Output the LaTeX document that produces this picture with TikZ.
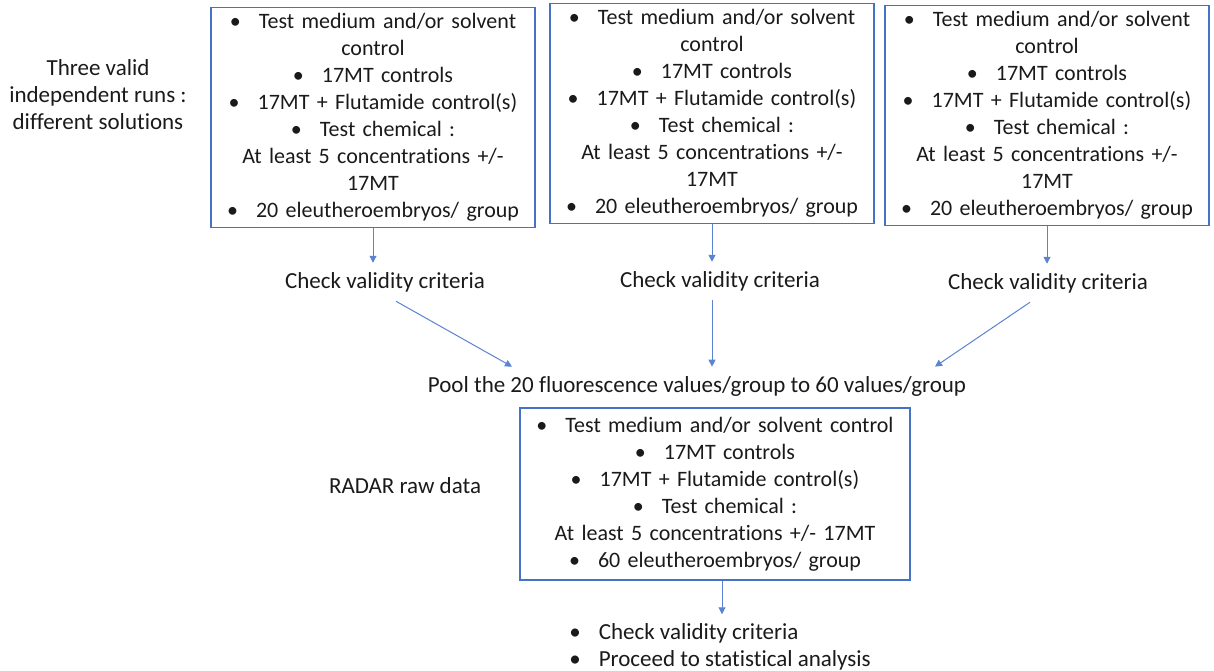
\documentclass[tikz,border=0pt]{standalone}
\usepackage{fontspec}
\setmainfont{Carlito}[Ligatures={NoCommon}]
\usetikzlibrary{arrows.meta, positioning}
\definecolor{boxBlue}{HTML}{4472C4}
\definecolor{lineBlue}{HTML}{5B83CF}
\definecolor{textDark}{HTML}{1A1A1A}
\newcommand{\itemdot}{\textbullet\hspace{9pt}}
\newcommand{\runlines}{\itemdot Test medium and/or solvent\\control\\
  \itemdot 17MT controls\\\itemdot 17MT + Flutamide control(s)\\
  \itemdot Test chemical :\\At least 5 concentrations +/-\\17MT\\
  \itemdot 20 eleutheroembryos/ group}
\tikzset{
  arrowB/.style={-{Triangle[length=3.5pt, width=3.5pt]}, lineBlue, line width=0.5pt},
  boxRun/.style={rectangle, draw=boxBlue, line width=0.75pt, align=center,
                 inner sep=3pt, text width=156pt, minimum height=107.5pt},
  boxRaw/.style={boxRun, text width=189pt, minimum height=86pt},
  plain/.style={align=center, inner sep=4.5pt, text=textDark,
                font=\fontsize{11.5pt}{13.5pt}\selectfont},
}

\begin{document}
\begin{tikzpicture}[x=0.5pt, y=-0.5pt, font=\fontsize{11pt}{13.5pt}\selectfont, text=textDark]
    \useasboundingbox (0,0) rectangle (1214,670);
    % three runs
    \node[boxRun] (run1) at (373,117.5) {\runlines};
    \node[boxRun] (run2) at (712,113.5) {\runlines};
    \node[boxRun] (run3) at (1047,115.5) {\runlines};
    \node[plain] (runs) at (98,95) {Three valid\\independent runs :\\different solutions};
    \node[plain] (chk1) at (385,282) {Check validity criteria};
    \node[plain] (chk2) at (720,281) {Check validity criteria};
    \node[plain] (chk3) at (1048,283) {Check validity criteria};
    \draw[arrowB] (run1.south) -- (run1.south |- chk1.north);
    \draw[arrowB] (run2.south) -- (run2.south |- chk2.north);
    \draw[arrowB] (run3.south) -- (run3.south |- chk3.north);
    % pooling
    \node[plain] (pool) at (697,386) {Pool the 20 fluorescence values/group to 60 values/group};
    \draw[arrowB] ([xshift=5.5pt]chk1.south) -- ([xshift=-92.5pt]pool.north);
    \draw[arrowB] (chk2.south -| run2.south) -- (run2.south |- pool.north);
    \draw[arrowB] ([xshift=-9pt]chk3.south) -- ([xshift=119pt]pool.north);
    % raw data
    \node[boxRaw] (raw) at (715,494) {\itemdot Test medium and/or solvent control\\
      \itemdot 17MT controls\\\itemdot 17MT + Flutamide control(s)\\
      \itemdot Test chemical :\\At least 5 concentrations +/- 17MT\\
      \itemdot 60 eleutheroembryos/ group};
    \node[plain] (rawlbl) at (405,486) {RADAR raw data};
    \node[plain, align=left] (final) at (720,647) {\itemdot Check validity criteria\\
      \itemdot Proceed to statistical analysis};
    \draw[arrowB] ([xshift=3.5pt]raw.south) -- ([xshift=3.5pt]raw.south |- final.north);
\end{tikzpicture}
\end{document}
